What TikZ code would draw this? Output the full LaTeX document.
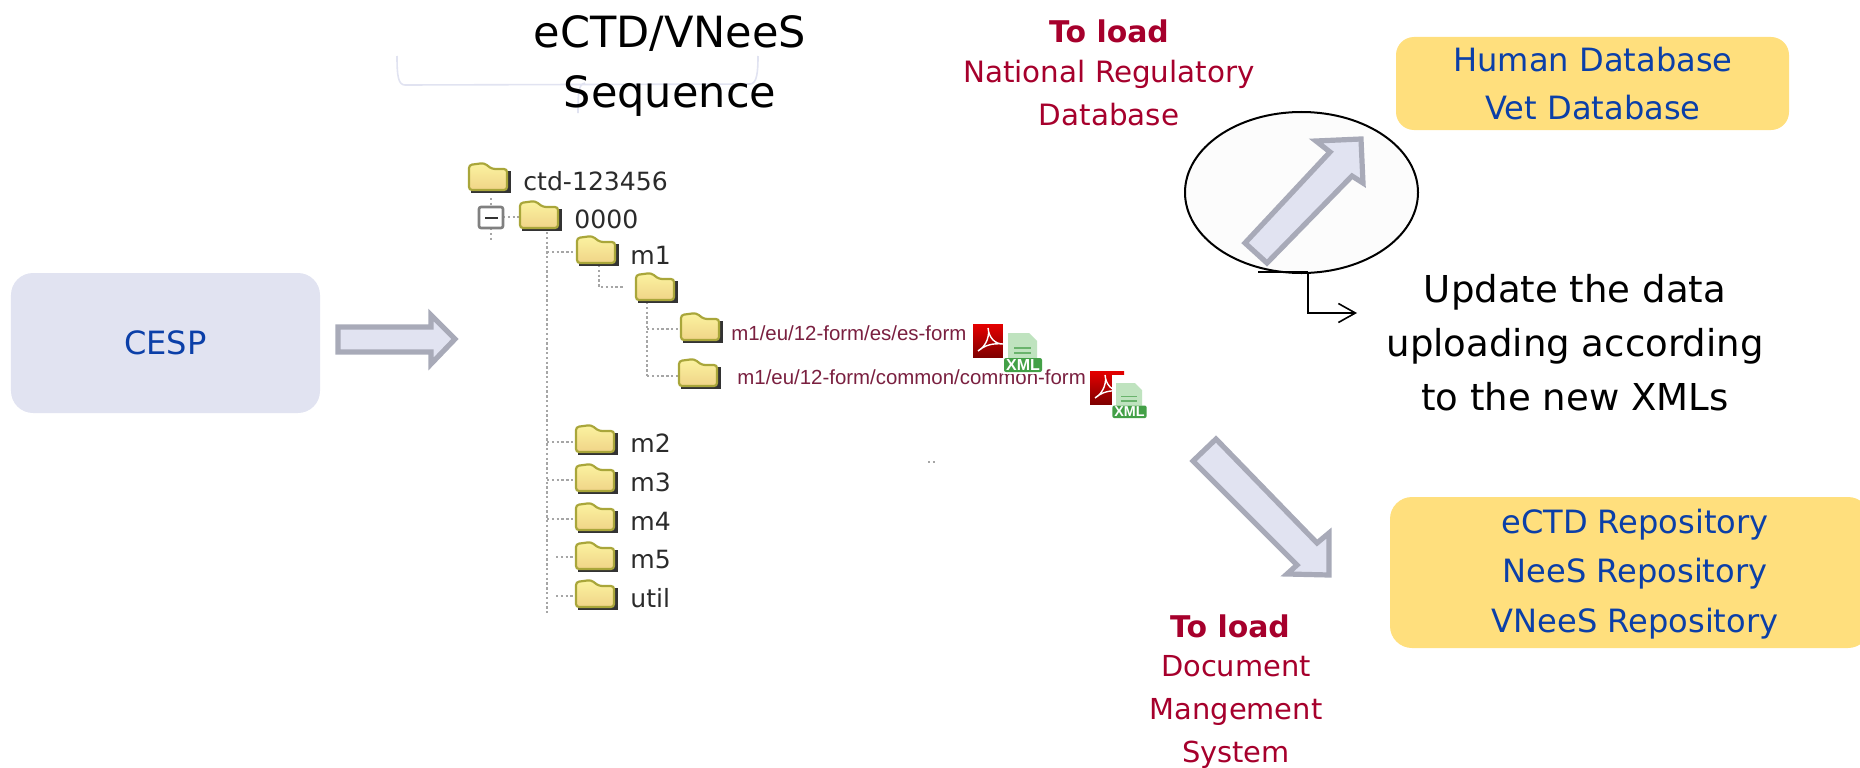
\documentclass[tikz,border=0pt]{standalone}
\usepackage{fontspec}
\setmainfont{DejaVu Sans}
\newfontfamily\arialf{Liberation Sans}
\usetikzlibrary{shapes.geometric,arrows.meta,calc}
\definecolor{lav}{HTML}{E1E3F1}
\definecolor{lavline}{HTML}{A8AAB8}
\definecolor{ybox}{HTML}{FFDF7D}
\definecolor{bluet}{HTML}{0B3FA8}
\definecolor{redt}{HTML}{A6002C}
\definecolor{treet}{HTML}{2B2B2B}
\definecolor{pathc}{HTML}{7A2040}
\definecolor{foldt}{HTML}{FBF3A0}
\definecolor{foldm}{HTML}{F0D488}
\definecolor{foldb}{HTML}{A9A63A}
\definecolor{xmlg}{HTML}{43A047}
\definecolor{xmll}{HTML}{BFE3BF}
\tikzset{
 x=0.5bp,y=-0.5bp,
 bigarrow/.style={draw=lavline,fill=lav,line width=2.6bp,miter limit=10},
 txt/.style={inner sep=0,align=center,font=\fontsize{16.1}{24.1}\selectfont},
 btxt/.style={txt,text=bluet},
 rtxt/.style={txt,text=redt,font=\fontsize{14.5}{21.6}\selectfont},
 hd/.style={txt,text=redt,font=\fontsize{15}{21.6}\selectfont\bfseries},
 treelabel/.style={inner sep=0,anchor=west,text=treet,font=\fontsize{12.6}{14}\selectfont},
 pathlabel/.style={inner sep=0,anchor=west,text=pathc,font=\arialf\fontsize{10.25}{12}\selectfont},
 dots/.style={draw=gray!70,line width=0.8bp,dash pattern=on 1.2bp off 1.2bp},
}
\newcommand{\folder}[3]{% name, left x, top y
 \coordinate (#1) at (#2,#3);
 \fill[black!80] ($(#1)+(3,9)$) rectangle ($(#1)+(43,31)$);
 \draw[foldb,line width=1.1bp,top color=foldt,bottom color=foldm,rounded corners=1.5bp] ($(#1)+(1,28)$) -- ($(#1)+(1,3)$) -- ($(#1)+(16,1)$) -- ($(#1)+(24,7)$) -- ($(#1)+(39,7)$) -- ($(#1)+(39,28)$) -- cycle;
}
\newcommand{\pdficon}[3]{%
 \coordinate (#1) at (#2,#3);
 \shade[top color=red!90!black,bottom color=red!50!black] (#1) rectangle ++(34,33);
 \draw[white,line width=0.7bp] ($(#1)+(5,27)$) .. controls ($(#1)+(14,22)$) and ($(#1)+(17,10)$) .. ($(#1)+(15,4)$) .. controls ($(#1)+(16,14)$) and ($(#1)+(22,20)$) .. ($(#1)+(30,20)$) .. controls ($(#1)+(20,19)$) and ($(#1)+(12,21)$) .. ($(#1)+(5,27)$);
}
\newcommand{\xmlicon}[5]{% name, left, top, scale, font size
 \begin{scope}[shift={(#2,#3)},scale=#4]
 \fill[white] (-5,-9) rectangle (35,41);
 \fill[xmll] (0,0) -- (21,0) -- (29,8) -- (29,25) -- (0,25) -- cycle;
 \draw[xmlg!80,line width=0.8bp] (6,15) -- (23,15) (6,20) -- (23,20);
 \fill[xmlg,rounded corners=1bp] (-4,25) rectangle (34,39);
 \node[inner sep=0,text=white,font=\arialf\bfseries\fontsize{#5}{9}\selectfont] (#1) at (15,32) {XML};
 \end{scope}
}
\begin{document}
\begin{tikzpicture}
\useasboundingbox (0,0) rectangle (1860,768);
% top bracket
\draw[lav,line width=0.8bp] (397,56) .. controls (397,75) and (398,85) .. (405,85) -- (750,84) .. controls (757,84) and (758,72) .. (758,56);
\draw[lav,line width=0.8bp] (578,113) .. controls (578,95) and (578,84) .. (585,83);
\node[txt,font=\fontsize{21.6}{30.1}\selectfont] (title) at (670,66) {eCTD/VNeeS\\Sequence};
% CESP
\node[draw=none,fill=lav,rounded corners=11bp,minimum width=154.5bp,minimum height=70bp,inner sep=0,text=bluet,font=\fontsize{16.1}{20}\selectfont] (cesp) at (165.5,343) {CESP};
\draw[bigarrow] (338,327) -- (431,327) -- (431,315) -- (455,339) -- (431,364) -- (431,352) -- (338,352) -- cycle;
% tree lines
\coordinate (t0a) at (547,232); \coordinate (t0b) at (547,613);
\draw[dots] (t0a) -- (t0b);
\draw[dots] (491,198) -- (491,207) (491,228) -- (491,240) (503,217) -- (519,217);
\draw[dots] (547,252) -- (576,252) (599,265) -- (599,287) -- (623,287);
\draw[dots] (647,302) -- (647,377) (647,329) -- (680,329) (647,376) -- (678,376);
\draw[dots] (547,442) -- (575,442) (547,480) -- (575,480) (547,519) -- (575,519) (556,557) -- (575,557) (556,596) -- (575,596);
\draw[dots] (928,462) -- (936,462);
% folders
\folder{f0}{468}{162}\folder{f1}{519}{200}\folder{f2}{576}{235}\folder{f3}{635}{272}
\folder{f4}{680}{312}\folder{f5}{678}{358}\folder{f6}{575}{424}\folder{f7}{575}{463}
\folder{f8}{575}{502}\folder{f9}{575}{541}\folder{f10}{575}{579}
\draw[gray,line width=1.3bp,fill=white,rounded corners=1bp] (479,207) rectangle (503,228);
\draw[black!80,line width=1.3bp] (485,218) -- (498,218);
\node[treelabel] (l0) at (523,181) {ctd-123456};
\node[treelabel] (l1) at (574,219) {0000};
\node[treelabel] (l2) at (630,255) {m1};
\node[treelabel] (l6) at (630,443) {m2};
\node[treelabel] (l7) at (630,482) {m3};
\node[treelabel] (l8) at (630,521) {m4};
\node[treelabel] (l9) at (630,560) {m5};
\node[treelabel] (l10) at (630,598) {util};
\node[pathlabel] (p1) at (731,333) {m1/eu/12-form/es/es-form};
\node[pathlabel] (p2) at (737,377) {m1/eu/12-form/common/common-form};
\pdficon{pdfa}{973}{324}
\xmlicon{xa}{1008}{333}{1}{8}
\pdficon{pdfb}{1090}{371}
\xmlicon{xb}{1116}{383}{0.9}{7.2}
% ellipse and arrow
\node[draw=black,fill=white!99!black,line width=1bp,ellipse,minimum width=116.5bp,minimum height=80.5bp,inner sep=0] (ell) at (1301.5,192.5) {};
\draw[bigarrow] (1245,243) -- (1267,263) -- (1352,176) -- (1363,183) -- (1361,139) -- (1316,141) -- (1330,152) -- cycle;
\coordinate (c0) at (1258,272);\coordinate (c1) at (1308,272);\coordinate (c2) at (1308,313);\coordinate (c3) at (1357,313);
\draw[black,line width=0.8bp] (c0) -- (c1);
\draw[black,line width=0.8bp,-{Straight Barb[length=8.5bp,width=9.5bp]}] (c1) -- (c2) -- (c3);
% lower arrow
\draw[bigarrow] (1193,461) -- (1216,439) -- (1317,543) -- (1329,533) -- (1329,575) -- (1287,574) -- (1297,565) -- cycle;
% yellow boxes
\node[fill=ybox,rounded corners=9bp,minimum width=196.5bp,minimum height=46.5bp,inner sep=0] (hb) at (1592.5,83.5) {};
\node[btxt] (hbt) at (1593,84) {Human Database\\Vet Database};
\node[fill=ybox,rounded corners=11bp,minimum width=240bp,minimum height=75.5bp,inner sep=0] (rb) at (1630,572.5) {};
\node[btxt,font=\fontsize{16.1}{24.7}\selectfont] (rbt) at (1635,574) {eCTD Repository\\NeeS Repository\\VNeeS Repository};
% labels
\node[hd] (h1) at (1109,31) {To load};
\node[rtxt,font=\fontsize{14.75}{21.6}\selectfont] (r1) at (1109,93) {National Regulatory\\Database};
\node[hd] (h2) at (1230,626) {To load};
\node[rtxt] (r2) at (1236,712) {Document\\Mangement\\System};
\node[txt,font=\fontsize{18.6}{27.1}\selectfont] (up) at (1575,343) {Update the data\\uploading according\\to the new XMLs};
\end{tikzpicture}
\end{document}
